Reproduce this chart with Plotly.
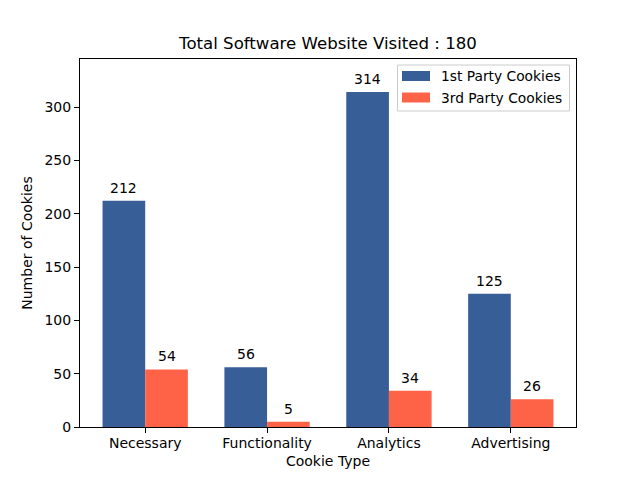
import plotly.graph_objects as go

categories = ["Necessary", "Functionality", "Analytics", "Advertising"]
first_party = [212, 56, 314, 125]
third_party = [54, 5, 34, 26]
series_names = ["1st Party Cookies", "3rd Party Cookies"]
colors = ["#375e97", "#ff6347"]
yticks = [0, 50, 100, 150, 200, 250, 300]

xs = list(range(len(categories)))
font = "DejaVu Sans, sans-serif"
w = 0.35

fig = go.Figure()
for vals, name, col, off in [(first_party, series_names[0], colors[0], -w / 2),
                             (third_party, series_names[1], colors[1], w / 2)]:
    fig.add_trace(go.Bar(x=[x + off for x in xs], y=vals, name=name, marker_color=col,
                         marker_line_width=0, width=w, showlegend=False))
    for x, v in zip(xs, vals):
        fig.add_annotation(x=x + off, y=v, text=str(v), showarrow=False, xref="x", yref="y",
                           yanchor="bottom", yshift=3, font=dict(size=14, color="black"))

# legend (matplotlib style)
def px_x(p):
    return (p - 80) / 496
def px_y(p):
    return (427 - p) / 368

fig.add_shape(type="rect", xref="paper", yref="paper", x0=px_x(397.5), x1=px_x(569.5),
              y0=px_y(111), y1=px_y(65), line=dict(color="#cccccc", width=1),
              fillcolor="rgba(255,255,255,0.8)", layer="above")
for i, (name, col) in enumerate(zip(series_names, colors)):
    yc = 76 + 21.5 * i
    fig.add_shape(type="rect", xref="paper", yref="paper", x0=px_x(402), x1=px_x(430),
                  y0=px_y(yc + 5), y1=px_y(yc - 5), line=dict(width=0), fillcolor=col,
                  layer="above")
    fig.add_annotation(xref="paper", yref="paper", x=px_x(439), y=px_y(yc), text=name,
                       showarrow=False, xanchor="left", yanchor="middle",
                       font=dict(size=13.8, color="black"))

fig.update_layout(
    width=640, height=480,
    margin=dict(l=80, r=64, t=59, b=53),
    paper_bgcolor="white", plot_bgcolor="white",
    font=dict(family=font, size=14, color="black"),
    barmode="overlay",
    title=dict(text="Total Software Website Visited : 180", x=328/640, xanchor="center",
               y=1-43/480, yanchor="middle", font=dict(size=16.6, color="black")),
    showlegend=False,
)
fig.update_xaxes(range=[-0.535, 3.535], tickvals=xs, ticktext=categories,
                 showline=True, linecolor="black", linewidth=1, mirror=True,
                 ticks="outside", ticklen=5, tickcolor="black", showgrid=False, zeroline=False,
                 ticklabelstandoff=-2,
                 title=dict(text="Cookie Type", font=dict(size=14), standoff=6))
fig.update_yaxes(range=[0, 345], tickvals=yticks,
                 showline=True, linecolor="black", linewidth=1, mirror=True,
                 ticks="outside", ticklen=5, tickcolor="black", showgrid=False, zeroline=False,
                 title=dict(text="Number of Cookies", font=dict(size=14), standoff=8))

fig.write_html("out.html")
